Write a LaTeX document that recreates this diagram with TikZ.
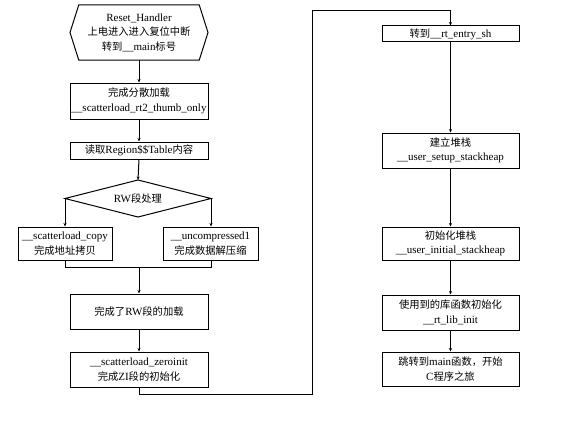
\documentclass[tikz,border=0pt]{standalone}
\usepackage{fontspec}
\setmainfont[Scale=1.1]{Liberation Serif}
\newfontfamily\cjk[Scale=1.03]{Noto Sans CJK SC}
\usetikzlibrary{arrows.meta}
\newcommand{\zh}[1]{{\cjk #1}}
\begin{document}
\begin{tikzpicture}[x=1pt,y=-1pt,
  every node/.style={font=\fontsize{10}{14.5}\selectfont, align=center, inner sep=0pt},
  stepbox/.style={draw, line width=1pt, minimum height=#1},
  lbox/.style={stepbox=#1, minimum width=138pt},
  rbox/.style={stepbox=#1, minimum width=137pt},
  conn/.style={line width=1pt},
  arr/.style={conn, -{Stealth[length=3.5pt,width=3pt]}}]
\useasboundingbox (0,0) rectangle (567,436);
% hexagon start
\node[minimum width=120pt, minimum height=55pt] (hex) at (139,32.5)
  {Reset\_Handler\\ \zh{上电进入进入复位中断}\\ \zh{转到}\_\_main\zh{标号}};
\coordinate (hexW) at (70,32.5);
\coordinate (hexE) at (208,32.5);
\draw[line width=1pt] (hex.north west) -- (hex.north east) -- (hexE) -- (hex.south east)
  -- (hex.south west) -- (hexW) -- cycle;
\node[lbox=36pt] (b2) at (139,101) {\zh{完成分散加载}\\ \_\_scatterload\_rt2\_thumb\_only};
\node[lbox=17pt] (b3) at (139,150.5) {\zh{读取}Region\$\$Table\zh{内容}};
% diamond
\coordinate (dN) at (138,180);
\coordinate (dS) at (138,217);
\coordinate (dW) at (65,198.5);
\coordinate (dE) at (211,198.5);
\draw[line width=1pt] (dN) -- (dE) -- (dS) -- (dW) -- cycle;
\node (d) at (138,198.5) {RW\zh{段处理}};
\node[stepbox=33pt, minimum width=94pt] (lb) at (65,243.5) {\_\_scatterload\_copy\\ \zh{完成地址拷贝}};
\node[stepbox=33pt, minimum width=95pt] (rb) at (210.5,243.5) {\_\_uncompressed1\\ \zh{完成数据解压缩}};
\node[lbox=35pt] (rw) at (139,311.5) {\zh{完成了}RW\zh{段的加载}};
\node[lbox=35pt] (zi) at (139,369.5) {\_\_scatterload\_zeroinit\\ \zh{完成}ZI\zh{段的初始化}};
% right column
\node[rbox=16pt] (r1) at (450.5,34) {\zh{转到}\_\_rt\_entry\_sh};
\node[rbox=35pt] (r2) at (450.5,150.5) {\zh{建立堆栈}\\ \_\_user\_setup\_stackheap};
\node[rbox=33pt] (r3) at (450.5,243.5) {\zh{初始化堆栈}\\ \_\_user\_initial\_stackheap};
\node[rbox=35pt] (r4) at (450.5,312.5) {\zh{使用到的库函数初始化}\\ \_\_rt\_lib\_init};
\node[rbox=34pt] (r5) at (450.5,369) {\zh{跳转到}main\zh{函数，开始}\\ C\zh{程序之旅}};
% connectors
\draw[arr] (hex.south) -- (b2.north);
\draw[arr] (b2.south) -- (b3.north);
\draw[arr] (b3.south) -- (dN);
\draw[arr] (dW) -- (dW |- lb.north);
\draw[arr] (dE) -- (dE |- rb.north);
\coordinate (mL) at (65,267);
\coordinate (mR) at (211,267);
\coordinate (mC) at (139,267);
\draw[conn] (lb.south) -- (mL) -- (mR) -- (mR |- rb.south);
\draw[arr] (mC) -- (rw.north);
\draw[arr] (rw.south) -- (zi.north);
\coordinate (j1) at (139,394);
\coordinate (j2) at (312,394);
\coordinate (j3) at (312,11);
\coordinate (j4) at (450.5,11);
\draw[arr] (zi.south) -- (j1) -- (j2) -- (j3) -- (j4) -- (r1.north);
\draw[arr] (r1.south) -- (r2.north);
\draw[arr] (r2.south) -- (r3.north);
\draw[arr] (r3.south) -- (r4.north);
\draw[arr] (r4.south) -- (r5.north);
\end{tikzpicture}
\end{document}
